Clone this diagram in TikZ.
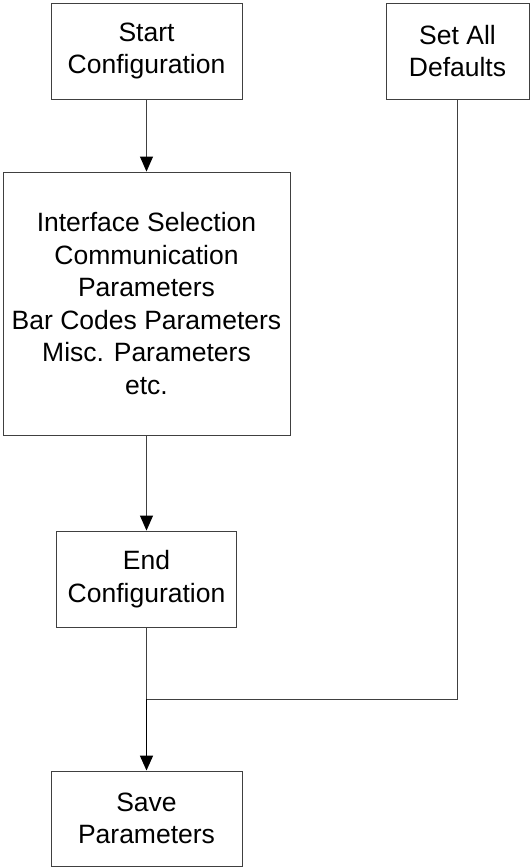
\documentclass[tikz,border=0pt]{standalone}
\usepackage{fontspec}
\setmainfont{Liberation Sans}
\usetikzlibrary{arrows.meta}
\colorlet{lnx}{black!75}

\begin{document}
\begin{tikzpicture}[x=1pt,y=-1pt,
    box/.style={draw=lnx,line width=0.9pt,align=center,inner sep=0pt,
        font=\fontsize{26.5}{32.5}\selectfont},
    link/.style={draw=lnx,line width=0.9pt},
    flow/.style={link,-{Triangle[length=15pt,width=13pt,color=black]}}
]
    \useasboundingbox (0,0) rectangle (530,867);

    \node [box,minimum width=191pt,minimum height=96pt] (start) at (146.5,51) {Start\\Configuration};
    \node [box,minimum width=143pt,minimum height=96pt] (defaults) at (457.5,51) {Set All\\Defaults};
    \node [box,minimum width=287pt,minimum height=263pt] (params) at (146.5,303.5)
        {Interface Selection\\Communication\\Parameters\\Bar Codes Parameters\\Misc. Parameters\\etc.};
    \node [box,minimum width=180pt,minimum height=96pt] (end) at (146.5,579) {End\\Configuration};
    \node [box,minimum width=191pt,minimum height=95pt] (save) at (146.5,818.5) {Save\\Parameters};
    \coordinate (join) at (146.5,699);

    \draw [flow] (start) -- (params);
    \draw [flow] (params) -- (end);
    \draw [link] (end) -- (join);
    \draw [link] (defaults) |- (join);
    \draw [flow,draw=black,line width=1.6pt] (join) -- (save);
\end{tikzpicture}
\end{document}
